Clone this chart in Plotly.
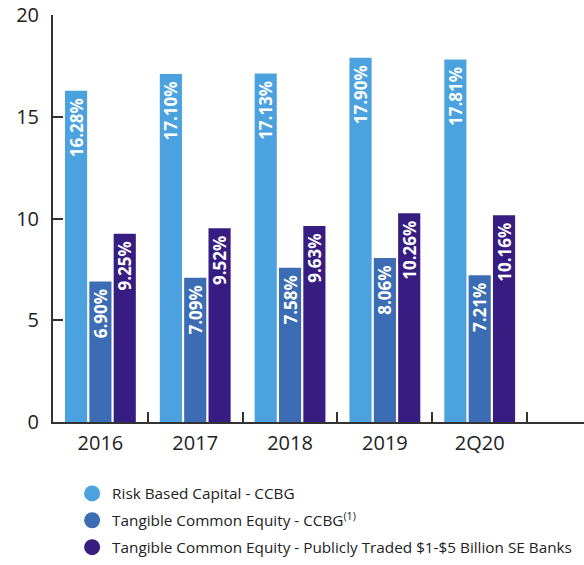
import plotly.graph_objects as go

categories = ["2016", "2017", "2018", "2019", "2Q20"]
risk_based_capital = [16.28, 17.10, 17.13, 17.90, 17.81]
tce_ccbg = [6.90, 7.09, 7.58, 8.06, 7.21]
tce_peers = [9.25, 9.52, 9.63, 10.26, 10.16]
series_names = [
    "Risk Based Capital - CCBG",
    "Tangible Common Equity - CCBG<sup>(1)</sup>",
    "Tangible Common Equity - Publicly Traded $1-$5 Billion SE Banks",
]
y_ticks = [0, 5, 10, 15, 20]

colors = ["#4BA2DE", "#3C6DB4", "#371C82"]
font_family = "Open Sans, Lato, sans-serif"

fig = go.Figure()
for name, vals, col in zip(series_names, [risk_based_capital, tce_ccbg, tce_peers], colors):
    fig.add_trace(go.Bar(
        x=categories, y=vals, name=name, marker=dict(color=col, line=dict(width=0)),
        texttemplate="%{y:.2f}%\u00a0", textposition="inside", insidetextanchor="end",
        textangle=-90, constraintext="none",
        textfont=dict(color="white", size=17, family=font_family, weight=700),
        showlegend=False, hoverinfo="skip",
    ))
for i, (name, col) in enumerate(zip(series_names, colors)):
    fig.add_trace(go.Scatter(
        x=[None], y=[None], mode="markers", name=name,
        marker=dict(symbol="circle", size=17, color=col),
        legendgroup=f"g{i}", showlegend=True,
    ))

fig.update_layout(
    width=584, height=565,
    margin=dict(l=53, r=0, t=15, b=143),
    paper_bgcolor="white", plot_bgcolor="white",
    barmode="group", bargap=0.23, bargroupgap=0.09,
    font=dict(family=font_family, color="#222222"),
    legend=dict(
        x=0.036, xanchor="left", y=-0.135, yanchor="top",
        font=dict(size=15.3, color="#222222", family=font_family),
        traceorder="grouped", tracegroupgap=4,
        bgcolor="rgba(0,0,0,0)",
    ),
    xaxis=dict(
        range=[-0.5, 5.1], showline=True, linecolor="#333333", linewidth=2,
        ticks="inside", tickson="boundaries", ticklen=10, tickwidth=2, tickcolor="#333333",
        tickfont=dict(size=20, color="#222222"), showgrid=False, zeroline=False,
        ticklabelstandoff=2,
    ),
    yaxis=dict(
        range=[0, 20], tickvals=y_ticks, showline=True, linecolor="#333333", linewidth=2,
        ticks="inside", ticklen=10, tickwidth=2, tickcolor="#333333",
        tickfont=dict(size=20, color="#222222"), showgrid=False, zeroline=False,
        ticklabelstandoff=8,
    ),
)

fig.write_html("out.html")
